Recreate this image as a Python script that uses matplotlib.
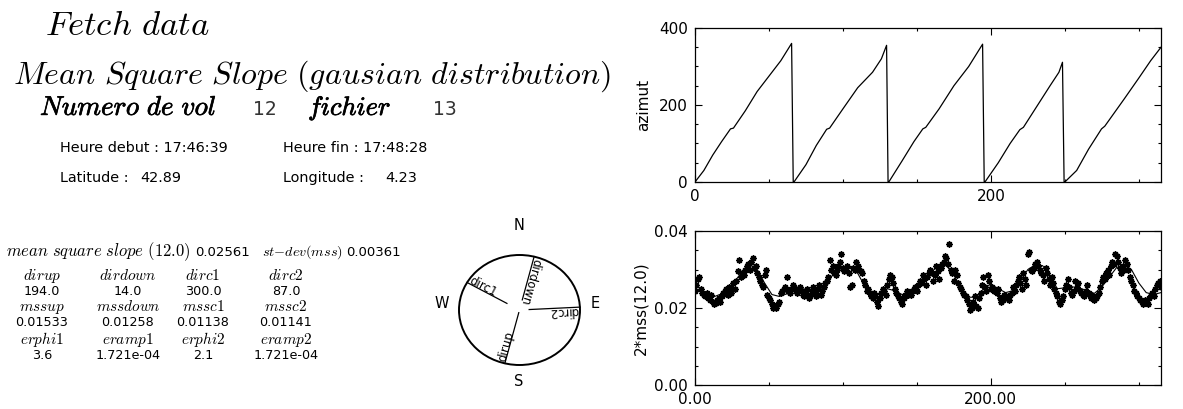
import numpy as np
import matplotlib.pyplot as plt
from matplotlib.patches import Circle
from matplotlib.ticker import MultipleLocator, FormatStrFormatter
import matplotlib.patheffects as pe

plt.rcParams['mathtext.fontset'] = 'cm'
plt.rcParams['font.family'] = 'DejaVu Sans'

W, H = 1183, 409

# header values
flight = 12
file_no = 13
t_start = '17:46:39'
t_end = '17:48:28'
lat = 42.89
lon = 4.23
mss_mean = 0.02561
mss_std = 0.00361

col_names = [['dirup', 'dirdown', 'dirc1', 'dirc2'],
             ['mssup', 'mssdown', 'mssc1', 'mssc2'],
             ['erphi1', 'eramp1', 'erphi2', 'eramp2']]
col_values = [['194.0', '14.0', '300.0', '87.0'],
              ['0.01533', '0.01258', '0.01138', '0.01141'],
              ['3.6', '1.721e-04', '2.1', '1.721e-04']]

compass_labels = ['dirup', 'dirdown', 'dirc1', 'dirc2']
compass_dirs = [194.0, 14.0, 300.0, 87.0]

# azimut (vertices of the saw tooth)
az_x = [0, 6, 12, 18, 24, 26, 34, 42, 50, 58, 65.3, 66.4,
        66.9, 75, 82, 89, 91, 100, 110, 120, 126, 129.5, 130.5,
        131, 140, 148, 154, 156, 165, 175, 185, 194.4, 195.5,
        196, 205, 213, 219.6, 222, 230, 240, 246, 248.4, 249.5,
        250, 258, 266, 274.8, 277, 290, 300, 308, 315]
az_v = [0, 30, 70, 105, 138, 140, 185, 235, 275, 315, 360, 0,
        0, 45, 95, 137, 140, 190, 245, 285, 320, 355, 0,
        0, 55, 105, 138, 142, 190, 250, 300, 358, 0,
        0, 50, 100, 136, 142, 190, 250, 285, 311, 0,
        0, 30, 85, 138, 145, 215, 270, 315, 350]

# 2*mss samples, in units of 1e-4
mss_raw = [245, 260, 275, 280, 250, 240, 235, 230, 240,
           225, 220, 235, 215, 210, 212, 220, 225, 215, 230, 240,
           245, 250, 235, 255, 240, 250, 265, 250, 270,
           295, 325, 280, 290, 285, 300, 310, 315, 300, 320, 330, 305,
           310, 290, 280, 270, 260, 255, 285, 300,
           235, 225, 220, 210, 200, 205, 200, 210, 215,
           240, 245, 250, 255, 280, 245, 240, 250, 260, 255, 245, 240,
           250, 255, 245, 235, 230, 240, 250, 225, 230, 245, 255, 240, 230, 250, 260, 235, 245, 255, 265, 270,
           280, 325, 300, 310, 290, 285, 300, 310, 320,
           340, 305, 295, 300, 310, 290, 255, 260, 305, 300, 320, 310, 300, 295,
           290, 270, 260, 245, 250, 240, 230, 225,
           240, 230, 215, 205, 225, 240, 250, 245, 235, 260, 275, 285, 280, 265,
           250, 240, 230, 225, 215, 210, 225, 235, 245, 235,
           240, 235, 245, 250, 255, 245, 260, 270, 265, 285, 275, 260, 280, 290,
           300, 290, 270, 285, 310, 295, 275, 305, 315, 320, 335, 330,
           315, 365, 300, 290, 270, 300, 285, 265, 255, 250,
           240, 235, 230, 220, 210, 195, 200, 215, 230, 205, 200,
           225, 240, 260, 280, 255, 245, 285, 270, 250, 255, 245,
           245, 240, 250, 225, 215, 220, 235, 230, 225, 220, 235, 240,
           255, 245, 260, 270, 280, 265, 250, 290, 275, 260,
           340, 345, 300, 295, 305, 315, 320, 310, 300, 290, 285, 270, 305, 290, 275, 260,
           280, 265, 250, 240, 230, 215, 210, 220, 230,
           250, 260, 275, 255, 240, 235, 245, 270, 255, 265, 245, 240, 235, 230, 245, 260, 240, 235, 225, 230, 220, 225, 230,
           240, 255, 270, 280, 275, 290, 300, 285, 310, 320, 315, 340, 335, 320, 305, 290, 310, 300, 325, 315,
           300, 280, 270, 260, 245, 240, 230, 225, 220, 215, 210, 220, 215, 210,
           225, 235, 240, 230, 250, 260, 265, 270, 255]

# fitted curve vertices, units of 1e-4
fit_x = [0, 5, 12, 20, 28, 33, 38, 42, 47, 52, 57, 63, 66,
         70, 78, 85, 90, 95, 100, 105, 110, 115, 120, 125, 130,
         135, 140, 145, 150, 155, 160, 165, 170, 175, 180, 185, 190, 195,
         200, 205, 210, 215, 220, 225, 230, 235, 240, 245, 249,
         255, 260, 265, 270, 275, 280, 285, 290, 295, 300, 305, 310, 315]
fit_raw = [250, 240, 228, 240, 275, 300, 310, 300, 265, 235, 230, 238, 245,
           250, 248, 250, 270, 295, 305, 305, 290, 255, 235, 235, 250,
           245, 235, 238, 255, 275, 295, 310, 310, 285, 250, 228, 228, 250,
           262, 250, 240, 245, 270, 300, 312, 310, 280, 250, 252,
           255, 252, 245, 238, 255, 280, 305, 312, 300, 265, 240, 235, 240]

mss = np.array(mss_raw) * 1e-4
mss_x = np.arange(len(mss))
fit_v = np.array(fit_raw) * 1e-4

fig = plt.figure(figsize=(W / 100, H / 100), dpi=100)


def ftext(x, y, s, **kw):
    kw.setdefault('ha', 'left')
    kw.setdefault('va', 'baseline')
    return fig.text(x / W, 1 - y / H, s, **kw)


def m(s):
    return '$' + s.replace(' ', r'\ ') + '$'


bold = [pe.withStroke(linewidth=0.5, foreground='k')]

ftext(45, 35, m('Fetch data'), fontsize=25)
ftext(13, 84, m('Mean Square Slope (gausian distribution)'), fontsize=23)
ftext(40, 115, m('Numero de vol'), fontsize=19.5, path_effects=bold)
ftext(253, 115, str(flight), fontsize=13.5, color='#333333')
ftext(308, 115, m('fichier'), fontsize=19, path_effects=bold)
ftext(433, 115, str(file_no), fontsize=13.5, color='#333333')
ftext(60, 152, 'Heure debut : ' + t_start, fontsize=10.4)
ftext(283, 152, 'Heure fin : ' + t_end, fontsize=10.4)
ftext(60, 182, 'Latitude :', fontsize=10.4)
ftext(140, 182, '%.2f' % lat, fontsize=10.4)
ftext(283, 182, 'Longitude :', fontsize=10.4)
ftext(385, 182, '%.2f' % lon, fontsize=10.4)

ftext(6, 256, m('mean square slope (12.0)'), fontsize=12)
ftext(195, 256, '%.5f' % mss_mean, fontsize=9.5)
ftext(262, 256, m('st{-}dev(mss)'), fontsize=10.2)
ftext(346, 256, '%.5f' % mss_std, fontsize=9.5)

col_x = [42, 128, 203, 286]
row_y = [280, 311, 344]
for r in range(3):
    for c in range(4):
        ftext(col_x[c], row_y[r], m(col_names[r][c]), fontsize=11, ha='center')
        ftext(col_x[c], row_y[r] + 15, col_values[r][c], fontsize=9.2, ha='center')

# compass
axc = fig.add_axes([459 / W, 1 - 365 / H, 121 / W, 110 / H])
axc.set_xlim(-1, 1)
axc.set_ylim(-1, 1)
axc.axis('off')
axc.add_patch(Circle((0, 0), 1, fill=False, lw=1.4, color='k', clip_on=False))
inner = [0.05, 0.19, 0.24, 0.16]
for lab, d, r0 in zip(compass_labels, compass_dirs, inner):
    b = np.radians(d)
    sx, sy = np.sin(b), np.cos(b)
    axc.plot([r0 * sx, sx], [r0 * sy, sy], color='k', lw=0.9, clip_on=False)
    rot = np.degrees(np.arctan2(-sy * 55, -sx * 60.5))
    axc.text(0.98 * sx, 0.98 * sy, lab, fontsize=8.5, rotation=rot,
             rotation_mode='anchor', ha='left', va='baseline')
ftext(519, 226, 'N', fontsize=10.5, ha='center', va='center')
ftext(519, 381, 'S', fontsize=10.5, ha='center', va='center')
ftext(442, 303, 'W', fontsize=10.5, ha='center', va='center')
ftext(595, 304, 'E', fontsize=10.5, ha='center', va='center')


def style(ax, ymaj, ymin, fmt_x=None, fmt_y=None):
    ax.set_xlim(0, 315)
    ax.xaxis.set_major_locator(MultipleLocator(200))
    ax.xaxis.set_minor_locator(MultipleLocator(50))
    ax.yaxis.set_major_locator(MultipleLocator(ymaj))
    ax.yaxis.set_minor_locator(MultipleLocator(ymin))
    if fmt_x:
        ax.xaxis.set_major_formatter(FormatStrFormatter(fmt_x))
    if fmt_y:
        ax.yaxis.set_major_formatter(FormatStrFormatter(fmt_y))
    ax.tick_params(which='both', direction='in', top=True, right=True,
                   width=0.8, labelsize=11, pad=5)
    ax.tick_params(which='major', length=5)
    ax.tick_params(which='minor', length=2.5)
    for s in ax.spines.values():
        s.set_linewidth(0.9)


ax1 = fig.add_axes([695 / W, 1 - 182 / H, 466 / W, 154 / H])
ax1.plot(az_x, az_v, color='k', lw=0.9)
ax1.set_ylim(0, 400)
style(ax1, 200, 50)
ax1.set_ylabel('azimut', fontsize=11, labelpad=6)

ax2 = fig.add_axes([695 / W, 1 - 385 / H, 466 / W, 154 / H])
ax2.plot(mss_x, mss, ls='none', marker=(8, 2, 0), ms=4.5, mew=1.1, color='k')
ax2.plot(fit_x, fit_v, color='k', lw=0.8)
ax2.set_ylim(0, 0.04)
style(ax2, 0.02, 0.005, '%.2f', '%.2f')
ax2.set_ylabel('2*mss(12.0)', fontsize=11, labelpad=4)

fig.savefig('out.png', dpi=100)
